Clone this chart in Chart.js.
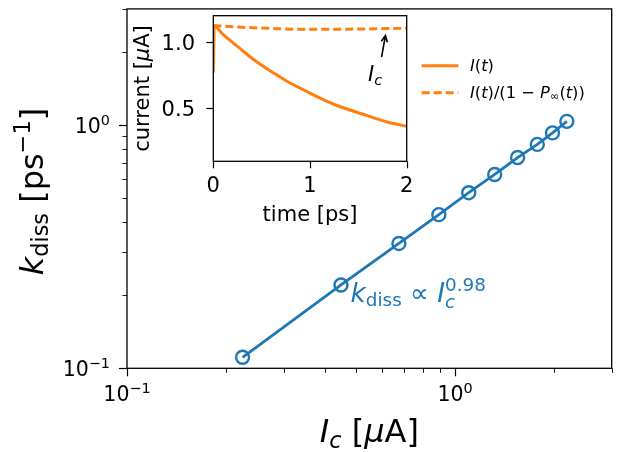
<!DOCTYPE html>
<html>
<head>
<meta charset="utf-8">
<script src="https://cdn.jsdelivr.net/npm/chart.js@4.4.1/dist/chart.umd.min.js"></script>
<style>
  html, body { margin: 0; padding: 0; background: #fff; }
  #wrap { position: relative; width: 630px; height: 452px; }
  #wrap canvas { position: absolute; left: 0; top: 0; }
</style>
</head>
<body>
<div id="wrap">
  <canvas id="mainChart" width="630" height="452"></canvas>
  <canvas id="insetChart" width="630" height="452"></canvas>
</div>
<script>
// dissociation rate against the plateau current
var currents = [0.225, 0.449, 0.674, 0.892, 1.10, 1.32, 1.55, 1.78, 1.98, 2.19];
var rates = [0.111, 0.220, 0.326, 0.428, 0.527, 0.626, 0.735, 0.832, 0.928, 1.035];
var logTicks = [0.1, 0.2, 0.3, 0.4, 0.5, 0.6, 0.7, 0.8, 0.9, 1, 2, 3];
var logMajor = [0.1, 1];
var logExponents = { '0.1': '−1', '1': '0' };

// inset: current through time, raw and corrected
var timeRaw = [0, 0.01, 0.1, 0.26, 0.43, 0.6, 0.78, 0.95, 1.05, 1.24, 1.59, 1.79, 2.0];
var currentRaw = [0.77, 1.12, 1.058, 0.962, 0.861, 0.778, 0.697, 0.634, 0.596, 0.533, 0.445, 0.399, 0.364];
var timeCorr = [0, 0.26, 0.6, 0.9, 1.24, 1.58, 2.0];
var currentCorr = [1.126, 1.114, 1.104, 1.098, 1.098, 1.10, 1.106];
var insetXTicks = [0, 1, 2];
var insetYTicks = [0.5, 1.0];

const blue = '#1f77b4';
const orange = '#ff7f0e';
const FONT = '"DejaVu Sans"';

function font(size, italic) {
    return (italic ? 'italic ' : '') + size + 'px ' + FONT;
}

// pieces: [text, size, italic, dy, keepX]
function drawPieces(ctx, pieces, x, y, align) {
    var widths = pieces.map(function (p) {
        ctx.font = font(p[1], p[2]);
        return ctx.measureText(p[0]).width;
    });
    var total = 0;
    pieces.forEach(function (p, i) { if (!p[4]) total += widths[i]; });
    var cx = x;
    if (align === 'center') cx = x - total / 2;
    if (align === 'right') cx = x - total;
    ctx.textAlign = 'left';
    ctx.textBaseline = 'alphabetic';
    pieces.forEach(function (p, i) {
        ctx.font = font(p[1], p[2]);
        ctx.fillText(p[0], cx, y + (p[3] || 0));
        if (!p[4]) cx += widths[i];
    });
}

function drawTicks(ctx, chart, majorVals, majorLen, minorLen) {
    var a = chart.chartArea;
    var xs = chart.scales.x, ys = chart.scales.y;
    ctx.strokeStyle = '#000';
    xs.ticks.forEach(function (t) {
        var major = majorVals.indexOf(t.value) >= 0;
        var px = Math.round(xs.getPixelForValue(t.value)) + 0.5;
        ctx.lineWidth = major ? 1.2 : 0.9;
        ctx.beginPath();
        ctx.moveTo(px, a.bottom);
        ctx.lineTo(px, a.bottom + (major ? majorLen : minorLen));
        ctx.stroke();
    });
    ys.ticks.forEach(function (t) {
        var major = majorVals.indexOf(t.value) >= 0;
        var py = Math.round(ys.getPixelForValue(t.value)) + 0.5;
        ctx.lineWidth = major ? 1.2 : 0.9;
        ctx.beginPath();
        ctx.moveTo(a.left, py);
        ctx.lineTo(a.left - (major ? majorLen : minorLen), py);
        ctx.stroke();
    });
    ctx.lineWidth = 1.3;
    ctx.strokeRect(a.left, a.top, a.right - a.left, a.bottom - a.top);
}

function noPadding(s) {
    s.paddingTop = 0;
    s.paddingBottom = 0;
    s.paddingLeft = 0;
    s.paddingRight = 0;
}

var mainDecor = {
    id: 'mainDecor',
    afterDraw: function (chart) {
        var ctx = chart.ctx, a = chart.chartArea;
        var xs = chart.scales.x, ys = chart.scales.y;
        ctx.save();
        drawTicks(ctx, chart, logMajor, 8, 4.5);

        // decade labels
        ctx.fillStyle = '#000';
        logMajor.forEach(function (v) {
            var exp = logExponents[String(v)];
            drawPieces(ctx, [['10', 20.5], [exp, 14.4, false, -8]], xs.getPixelForValue(v), 401, 'center');
            drawPieces(ctx, [['10', 20.5], [exp, 14.4, false, -8]], 110, ys.getPixelForValue(v) + 7.6, 'right');
        });

        drawPieces(ctx, [['I', 32, true], ['c', 22.4, true, 6], [' [', 32], ['μ', 32, true], ['A]', 32]],
            (a.left + a.right) / 2, 442, 'center');

        ctx.save();
        ctx.translate(42.5, (a.top + a.bottom) / 2 + 3);
        ctx.rotate(-Math.PI / 2);
        drawPieces(ctx, [['k', 32, true], ['diss', 22.4, false, 5], [' [ps', 32], ['−1', 22.4, false, -13], [']', 32]],
            0, 0, 'center');
        ctx.restore();

        // power-law fit label
        ctx.fillStyle = blue;
        drawPieces(ctx, [['k', 26.3, true], ['diss', 18.4, false, 4], [' ∝ ', 26.3], ['I', 26.3, true],
            ['c', 18.4, true, 6, true], ['0.98', 18.4, false, -11]],
            xs.getPixelForValue(0.48), ys.getPixelForValue(0.188), 'left');
        ctx.restore();
    }
};

new Chart(document.getElementById('mainChart'), {
    type: 'line',
    data: {
        datasets: [{
            data: currents.map(function (c, i) { return { x: c, y: rates[i] }; }),
            borderColor: blue,
            borderWidth: 2.8,
            pointRadius: 6.5,
            pointBorderWidth: 2.4,
            pointBorderColor: blue,
            pointBackgroundColor: 'rgba(0,0,0,0)',
            fill: false,
            tension: 0
        }]
    },
    options: {
        responsive: false,
        animation: false,
        layout: { padding: { left: 0, top: 5.5, right: 18.3, bottom: 0 } },
        plugins: { legend: { display: false }, tooltip: { enabled: false } },
        scales: {
            x: {
                type: 'logarithmic',
                min: 0.1,
                max: 3,
                afterBuildTicks: function (s) { s.ticks = logTicks.map(function (v) { return { value: v }; }); },
                afterFit: function (s) { s.height = 83.7; noPadding(s); },
                grid: { display: false },
                border: { display: false },
                ticks: { display: false, autoSkip: false }
            },
            y: {
                type: 'logarithmic',
                min: 0.1,
                max: 3,
                afterBuildTicks: function (s) { s.ticks = logTicks.map(function (v) { return { value: v }; }); },
                afterFit: function (s) { s.width = 127; noPadding(s); },
                grid: { display: false },
                border: { display: false },
                ticks: { display: false, autoSkip: false }
            }
        }
    },
    plugins: [mainDecor]
});

var insetDecor = {
    id: 'insetDecor',
    beforeDraw: function (chart) {
        var ctx = chart.ctx, a = chart.chartArea;
        ctx.save();
        ctx.fillStyle = '#fff';
        ctx.fillRect(a.left, a.top, a.right - a.left, a.bottom - a.top);
        ctx.restore();
    },
    afterDraw: function (chart) {
        var ctx = chart.ctx, a = chart.chartArea;
        var xs = chart.scales.x, ys = chart.scales.y;
        ctx.save();
        drawTicks(ctx, chart, insetXTicks.concat(insetYTicks), 7, 0);

        ctx.fillStyle = '#000';
        insetXTicks.forEach(function (v) {
            drawPieces(ctx, [[String(v), 21]], xs.getPixelForValue(v), 191.7, 'center');
        });
        insetYTicks.forEach(function (v) {
            drawPieces(ctx, [[v.toFixed(1), 21]], 195, ys.getPixelForValue(v) + 7.7, 'right');
        });

        drawPieces(ctx, [['time [ps]', 21]], (a.left + a.right) / 2, 221, 'center');
        ctx.save();
        ctx.translate(149, (a.top + a.bottom) / 2);
        ctx.rotate(-Math.PI / 2);
        drawPieces(ctx, [['current [', 21], ['μ', 21, true], ['A]', 21]], 0, 0, 'center');
        ctx.restore();

        // arrow marking the plateau current
        var x0 = xs.getPixelForValue(1.74), y0 = ys.getPixelForValue(0.887);
        var x1 = xs.getPixelForValue(1.78), y1 = ys.getPixelForValue(1.05);
        var ang = Math.atan2(y1 - y0, x1 - x0);
        ctx.strokeStyle = '#000';
        ctx.lineWidth = 1.6;
        ctx.beginPath();
        ctx.moveTo(x0, y0);
        ctx.lineTo(x1, y1);
        ctx.moveTo(x1 - 7 * Math.cos(ang - 0.45), y1 - 7 * Math.sin(ang - 0.45));
        ctx.lineTo(x1, y1);
        ctx.lineTo(x1 - 7 * Math.cos(ang + 0.45), y1 - 7 * Math.sin(ang + 0.45));
        ctx.stroke();
        drawPieces(ctx, [['I', 21, true], ['c', 14.7, true, 4]],
            xs.getPixelForValue(1.6), ys.getPixelForValue(0.71), 'left');

        // legend for the two current traces
        var lx = 421.7, lw = 36.6, rows = [65.7, 92.7];
        ctx.strokeStyle = orange;
        ctx.lineWidth = 3;
        chart.data.datasets.forEach(function (ds, i) {
            ctx.setLineDash(ds.borderDash || []);
            ctx.beginPath();
            ctx.moveTo(lx, rows[i]);
            ctx.lineTo(lx + lw, rows[i]);
            ctx.stroke();
        });
        ctx.setLineDash([]);
        ctx.fillStyle = '#000';
        var s = 16.3;
        drawPieces(ctx, [['I', s, true], ['(', s], ['t', s, true], [')', s]], 470, rows[0] + 4.8);
        drawPieces(ctx, [['I', s, true], ['(', s], ['t', s, true], [')/(1 − ', s], ['P', s, true],
            ['∞', 11.4, false, 2.6], ['(', s], ['t', s, true], ['))', s]], 470, rows[1] + 4.8);
        ctx.restore();
    }
};

new Chart(document.getElementById('insetChart'), {
    type: 'line',
    data: {
        datasets: [{
            label: 'I(t)',
            data: timeRaw.map(function (t, i) { return { x: t, y: currentRaw[i] }; }),
            borderColor: orange,
            borderWidth: 3,
            pointRadius: 0,
            cubicInterpolationMode: 'monotone',
            fill: false
        }, {
            label: 'I(t)/(1 − P∞(t))',
            data: timeCorr.map(function (t, i) { return { x: t, y: currentCorr[i] }; }),
            borderColor: orange,
            borderWidth: 3,
            borderDash: [8, 4],
            pointRadius: 0,
            cubicInterpolationMode: 'monotone',
            fill: false
        }]
    },
    options: {
        responsive: false,
        animation: false,
        layout: { padding: { left: 150, top: 15.7, right: 223.3, bottom: 222 } },
        plugins: { legend: { display: false }, tooltip: { enabled: false } },
        scales: {
            x: {
                type: 'linear',
                min: 0,
                max: 2,
                afterBuildTicks: function (s) { s.ticks = insetXTicks.map(function (v) { return { value: v }; }); },
                afterFit: function (s) { s.height = 68.7; noPadding(s); },
                grid: { display: false },
                border: { display: false },
                ticks: { display: false, autoSkip: false }
            },
            y: {
                type: 'linear',
                min: 0.1,
                max: 1.2,
                afterBuildTicks: function (s) { s.ticks = insetYTicks.map(function (v) { return { value: v }; }); },
                afterFit: function (s) { s.width = 63.3; noPadding(s); },
                grid: { display: false },
                border: { display: false },
                ticks: { display: false, autoSkip: false }
            }
        }
    },
    plugins: [insetDecor]
});
</script>
</body>
</html>
